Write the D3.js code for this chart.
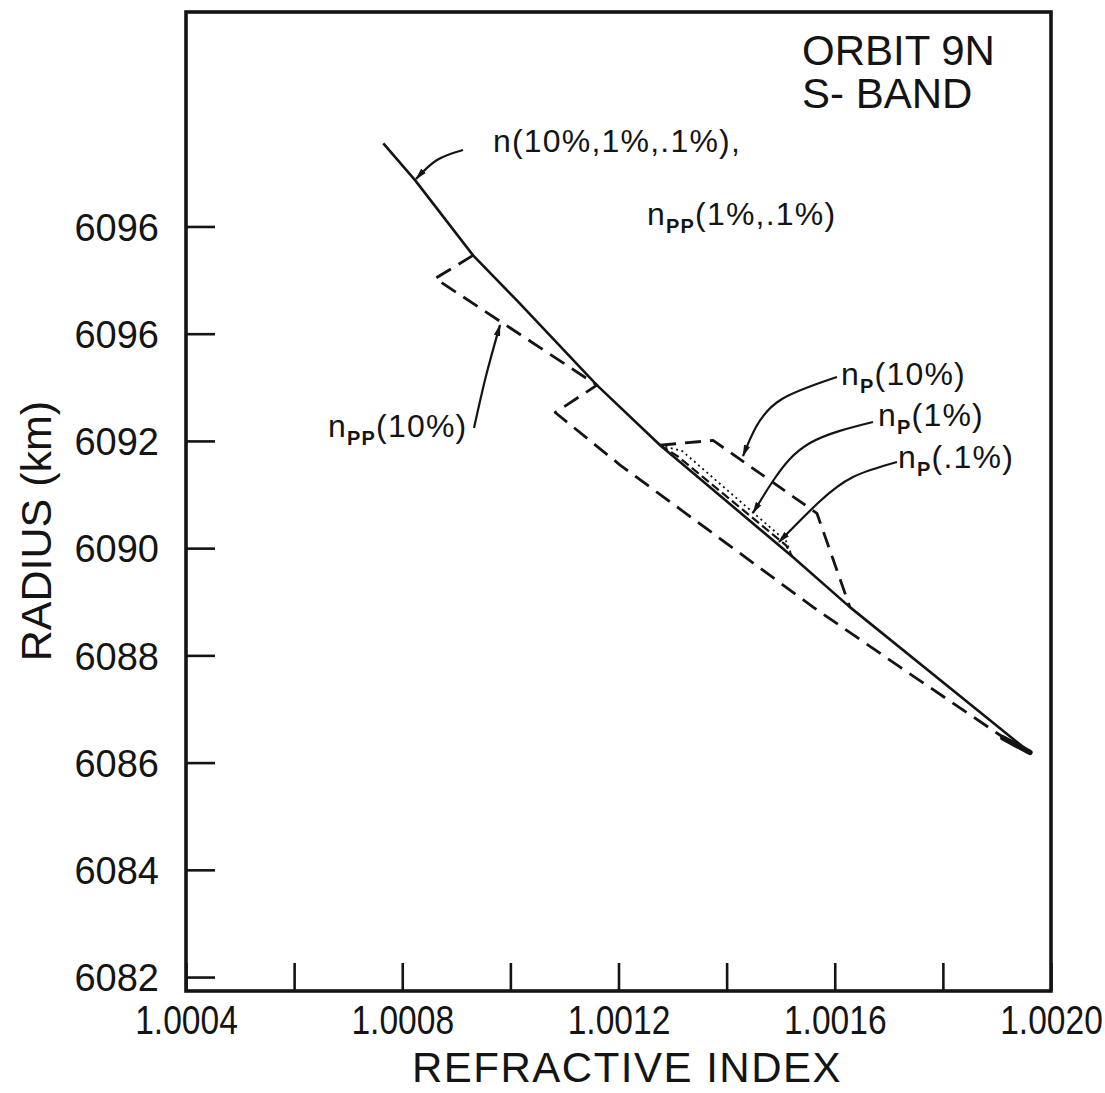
<!DOCTYPE html>
<html>
<head>
<meta charset="utf-8">
<script src="https://cdn.jsdelivr.net/npm/d3@7"></script>
<style>
  html, body { margin: 0; padding: 0; background: #fff; }
  svg { display: block; }
  text { font-family: "Liberation Sans", Arial, sans-serif; fill: #141414; }
</style>
</head>
<body>
<svg id="chart" width="1105" height="1093"></svg>
<script>
// Refractive index vs radius, Orbit 9N, S-band

// Axis ticks
const xTicks = [1.0004, 1.0006, 1.0008, 1.0010, 1.0012, 1.0014, 1.0016, 1.0018, 1.0020];
const xTickLabels = ["1.0004", "", "1.0008", "", "1.0012", "", "1.0016", "", "1.0020"];
const yTicks = [6082, 6084, 6086, 6088, 6090, 6092, 6094, 6096];
const yTickLabels = ["6082", "6084", "6086", "6088", "6090", "6092", "6096", "6096"];

// n(10%,1%,.1%) and npp(1%,.1%) — solid
const nIndex  = [1.000765, 1.000824, 1.000931, 1.001012, 1.001160, 1.001277, 1.001523, 1.001628, 1.001961];
const nRadius = [6097.55, 6096.86, 6095.46, 6094.62, 6093.04, 6091.92, 6089.83, 6088.90, 6086.19];

// npp(10%) — long dashes
const npp10Index  = [1.000931, 1.000861, 1.001160, 1.001083, 1.001203, 1.001560, 1.001721, 1.001906, 1.001961];
const npp10Radius = [6095.46, 6095.03, 6093.04, 6092.53, 6091.55, 6088.90, 6087.78, 6086.51, 6086.19];

// np(10%) — dashes
const np10Index  = [1.001277, 1.001375, 1.001567, 1.001628];
const np10Radius = [6091.92, 6092.01, 6090.65, 6088.90];

// np(1%) — dotted
const np1Index  = [1.001277, 1.001318, 1.001510, 1.001521];
const np1Radius = [6091.92, 6091.81, 6090.13, 6089.85];

// np(.1%) — short dashes
const np01Index  = [1.001277, 1.001310, 1.001510, 1.001521];
const np01Radius = [6091.92, 6091.71, 6090.05, 6089.85];

const svg = d3.select("#chart");
const W = 1105, H = 1093;
const margin = { left: 186, right: 54, top: 12, bottom: 102 };
const plotW = W - margin.left - margin.right;
const plotH = H - margin.top - margin.bottom;

const x = d3.scaleLinear().domain([1.0004, 1.0020]).range([margin.left, margin.left + plotW]);
const y = d3.scaleLinear().domain([6081.74, 6100]).range([margin.top + plotH, margin.top]);

const ink = "#141414";

// Axes (ticks pointing into the plot)
const yAxis = d3.axisLeft(y)
  .tickValues(yTicks)
  .tickSize(-29)
  .tickPadding(27)
  .tickFormat((d, i) => yTickLabels[i]);

const gy = svg.append("g")
  .attr("transform", `translate(${margin.left},0)`)
  .call(yAxis);
gy.select(".domain").remove();
gy.selectAll(".tick line").attr("stroke", ink).attr("stroke-width", 2.6);
gy.selectAll(".tick text")
  .attr("fill", ink)
  .style("font-size", "38px")
  .style("font-family", "\"Liberation Sans\", Arial, sans-serif")
  .attr("dy", "0.36em");

const xAxis = d3.axisBottom(x)
  .tickValues(xTicks)
  .tickSize(-28)
  .tickPadding(15)
  .tickFormat((d, i) => xTickLabels[i]);

const gx = svg.append("g")
  .attr("transform", `translate(0,${margin.top + plotH})`)
  .call(xAxis);
gx.select(".domain").remove();
gx.selectAll(".tick line").attr("stroke", ink).attr("stroke-width", 2.6);
gx.selectAll(".tick text")
  .attr("fill", ink)
  .attr("transform", "scale(0.84,1)")
  .style("font-size", "40px")
  .style("font-family", "\"Liberation Sans\", Arial, sans-serif");

// Plot frame
svg.append("rect")
  .attr("x", margin.left).attr("y", margin.top)
  .attr("width", plotW).attr("height", plotH)
  .attr("fill", "none").attr("stroke", ink).attr("stroke-width", 3.6);

// Axis titles
svg.append("text")
  .attr("x", 627).attr("y", 1082)
  .attr("text-anchor", "middle")
  .style("font-size", "42px")
  .style("letter-spacing", "1.5px")
  .text("REFRACTIVE INDEX");

svg.append("text")
  .attr("transform", "translate(51,531) rotate(-90)")
  .attr("text-anchor", "middle")
  .style("font-size", "43px")
  .text("RADIUS (km)");

// Orbit / band caption
svg.append("text").attr("x", 802).attr("y", 65).style("font-size", "42px").text("ORBIT 9N");
svg.append("text").attr("x", 802).attr("y", 108).style("font-size", "42px").text("S- BAND");

// Profiles
const zip = (xs, ys) => xs.map((v, i) => [v, ys[i]]);
const line = d3.line().x(d => x(d[0])).y(d => y(d[1]));

const curves = [
  { data: zip(nIndex, nRadius), dash: null, width: 2.6 },
  { data: zip(npp10Index, npp10Radius), dash: "17,9", width: 2.8 },
  { data: zip(np10Index, np10Radius), dash: "16,9", width: 2.8 },
  { data: zip(np1Index, np1Radius), dash: "2,3.5", width: 1.8 },
  { data: zip(np01Index, np01Radius), dash: "9,4", width: 2.2 }
];

svg.append("g").selectAll("path")
  .data(curves)
  .join("path")
  .attr("d", d => line(d.data))
  .attr("fill", "none")
  .attr("stroke", ink)
  .attr("stroke-width", d => d.width)
  .attr("stroke-dasharray", d => d.dash)
  .attr("stroke-linejoin", "round");

// Heavy end cap where the profiles meet at the bottom
const endPt = [nIndex[nIndex.length - 1], nRadius[nRadius.length - 1]];
svg.append("path")
  .attr("d", line([[1.001911, 6086.46], endPt]))
  .attr("stroke", ink).attr("stroke-width", 5.5).attr("stroke-linecap", "round");

// Leader arrows
svg.append("defs").append("marker")
  .attr("id", "arrow")
  .attr("viewBox", "0 0 12 8")
  .attr("refX", 11).attr("refY", 4)
  .attr("markerWidth", 12).attr("markerHeight", 8)
  .attr("markerUnits", "userSpaceOnUse")
  .attr("orient", "auto")
  .append("path").attr("d", "M0,0.8 L12,4 L0,7.2 Z").attr("fill", ink);

const leaders = [
  [[463, 150], [437, 160], [416, 179]],
  [[474, 428], [486, 376], [500, 325]],
  [[837, 377], [782, 399], [756, 427], [743, 456]],
  [[873, 422], [810, 443], [775, 478], [753, 513]],
  [[897, 462], [853, 477], [818, 503], [779, 542]]
];
const leaderLine = d3.line().curve(d3.curveNatural);
svg.append("g").selectAll("path")
  .data(leaders)
  .join("path")
  .attr("d", d => leaderLine(d))
  .attr("fill", "none")
  .attr("stroke", ink)
  .attr("stroke-width", 2.2)
  .attr("marker-end", "url(#arrow)");

// Curve labels with subscripts
function curveLabel(px, py, sub, rest) {
  const t = svg.append("text").attr("x", px).attr("y", py)
    .style("font-size", "32px").style("letter-spacing", "1.2px");
  t.append("tspan").text("n");
  if (sub) {
    t.append("tspan").attr("dy", 8).style("font-size", "20px").style("font-weight", "bold").text(sub);
    t.append("tspan").attr("dy", -8).text(rest);
  } else {
    t.append("tspan").text(rest);
  }
}
curveLabel(493, 152, null, "(10%,1%,.1%),");
curveLabel(647, 225, "PP", "(1%,.1%)");
curveLabel(328, 437, "PP", "(10%)");
curveLabel(841, 385, "P", "(10%)");
curveLabel(878, 426, "P", "(1%)");
curveLabel(898, 468, "P", "(.1%)");
</script>
</body>
</html>
